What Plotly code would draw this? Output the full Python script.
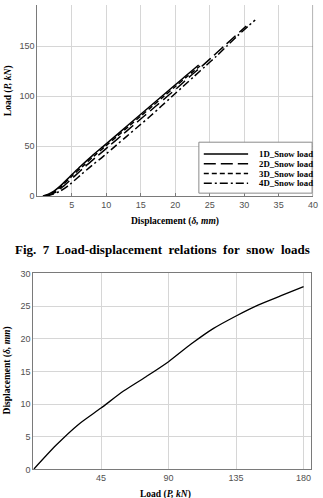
import plotly.graph_objects as go

# ---------------- data ----------------
# Top chart: displacement (mm) vs load (kN)
d1_disp = [0.8, 1.6, 2.4, 3.3, 4.8, 6.3, 7.9, 9.6, 11.3, 13.0, 14.7, 16.4, 18.1, 19.8, 21.5, 23.4]
d1_load = [0, 2, 5, 10, 20, 30, 40, 50, 60, 70, 80, 90, 100, 110, 120, 131]
d3_disp = [1.0, 1.8, 2.6, 3.5, 5.0, 6.6, 8.2, 9.9, 11.6, 13.3, 15.0, 16.7, 18.4, 20.1, 21.8, 23.6]
d3_load = [0, 2, 5, 10, 20, 30, 40, 50, 60, 70, 80, 90, 100, 110, 120, 130]
d2_disp = [1.1, 2.0, 2.9, 3.8, 5.4, 7.0, 8.7, 10.4, 12.1, 13.8, 15.5, 17.2, 18.9, 20.6, 22.2, 23.9, 25.5, 27.1, 28.7, 30.3]
d2_load = [0, 2, 5, 10, 20, 30, 40, 50, 60, 70, 80, 90, 100, 110, 120, 130, 140, 150, 160, 170]
d4_disp = [1.3, 2.3, 3.3, 4.4, 6.1, 7.8, 9.6, 11.3, 13.0, 14.7, 16.4, 18.0, 19.6, 21.2, 22.8, 24.4, 26.0, 27.5, 29.0, 30.6, 31.6]
d4_load = [0, 2, 5, 10, 20, 30, 40, 50, 60, 70, 80, 90, 100, 110, 120, 130, 140, 150, 160, 170, 176]

series_names = ["1D_Snow load", "2D_Snow load", "3D_Snow load", "4D_Snow load"]

top_xticks = [5, 10, 15, 20, 25, 30, 35, 40]
top_yticks = [0, 50, 100, 150]

# Bottom chart: load (kN) vs displacement (mm)
b_load = [0, 15, 30, 45, 60, 75, 90, 105, 120, 135, 150, 165, 180]
b_disp = [0, 3.7, 6.9, 9.4, 12.0, 14.2, 16.5, 19.2, 21.6, 23.5, 25.2, 26.6, 28.0]

bot_xticks = [45, 90, 135, 180]
bot_yticks = [0, 5, 10, 15, 20, 25, 30]

# ---------------- layout helpers ----------------
W, H = 323, 498
def px(x):
    return x / W
def py(y):
    return 1 - y / H

SERIF = "Liberation Serif"
SANS = "Liberation Sans"
GRID = "#d6d6d6"
AXIS = "#7a7a7a"
TICKFONT = dict(family=SANS, size=9, color="#505050")

dashes = ["solid", "12px,5px", "5px,3px", "8px,3px,2px,3px"]
top_data = [(d1_disp, d1_load), (d2_disp, d2_load), (d3_disp, d3_load), (d4_disp, d4_load)]

fig = go.Figure()
for (xs, ys), name, dash in zip(top_data, series_names, dashes):
    fig.add_trace(go.Scatter(x=xs, y=ys, mode="lines", name=name,
                             line=dict(color="black", width=1.5, dash=dash, shape="spline", smoothing=0.8),
                             xaxis="x", yaxis="y", showlegend=False))

fig.add_trace(go.Scatter(x=b_load, y=b_disp, mode="lines",
                         line=dict(color="black", width=1.3, shape="spline", smoothing=0.7),
                         xaxis="x2", yaxis="y2", showlegend=False))

shapes = []
# right spine of top chart
shapes.append(dict(type="line", xref="x", x0=40, x1=40, yref="paper",
                   y0=py(195), y1=1, line=dict(color=AXIS, width=1.2)))
# legend box
shapes.append(dict(type="rect", xref="paper", yref="paper",
                   x0=px(202), x1=px(317), y0=py(192), y1=py(140),
                   line=dict(color="#8a8a8a", width=1), fillcolor="white"))
annotations = []
rows = [152, 162, 172, 182]
for r, name, dash in zip(rows, series_names, dashes):
    shapes.append(dict(type="line", xref="paper", yref="paper",
                       x0=px(207), x1=px(252), y0=py(r), y1=py(r),
                       line=dict(color="black", width=1.5, dash=dash)))
    annotations.append(dict(text="<b>%s</b>" % name, xref="paper", yref="paper",
                            x=px(261), y=py(r), xanchor="left", yanchor="middle",
                            showarrow=False, font=dict(family=SERIF, size=8.8, color="black")))

# axis titles
annotations.append(dict(text="<b>Displacement (<i>δ, mm</i>)</b>", xref="paper", yref="paper",
                        x=px(178), y=py(221), xanchor="center", yanchor="middle", showarrow=False,
                        font=dict(family=SERIF, size=9.5, color="black")))
annotations.append(dict(text="<b>Load (<i>P, kN</i>)</b>", xref="paper", yref="paper",
                        x=px(8), y=py(87), xanchor="center", yanchor="middle", showarrow=False,
                        textangle=-90, font=dict(family=SERIF, size=9.5, color="black")))
annotations.append(dict(text="<b>Fig.\u00a0 7\u00a0 Load-displacement\u00a0 relations\u00a0 for\u00a0 snow\u00a0 loads</b>",
                        xref="paper", yref="paper",
                        x=px(165), y=py(249), xanchor="center", yanchor="middle", showarrow=False,
                        font=dict(family=SERIF, size=13, color="black")))
annotations.append(dict(text="<b>Displacement (<i>δ, mm</i>)</b>", xref="paper", yref="paper",
                        x=px(8), y=py(373), xanchor="center", yanchor="middle", showarrow=False,
                        textangle=-90, font=dict(family=SERIF, size=9.5, color="black")))
annotations.append(dict(text="<b>Load (<i>P, kN</i>)</b>", xref="paper", yref="paper",
                        x=px(168), y=py(500), xanchor="center", yanchor="middle", showarrow=False,
                        font=dict(family=SERIF, size=9.5, color="black")))

fig.update_layout(
    width=W, height=H, margin=dict(l=0, r=0, t=0, b=0),
    paper_bgcolor="white", plot_bgcolor="white",
    showlegend=False,
    xaxis=dict(domain=[px(38), px(318)], range=[0, 40], tickvals=top_xticks,
               anchor="y", showline=True, linecolor=AXIS, linewidth=1.2, mirror=False,
               showgrid=True, gridcolor=GRID, gridwidth=1, zeroline=False,
               ticks="inside", ticklen=3, tickcolor=AXIS, tickfont=TICKFONT,
               ticklabeloverflow="allow"),
    yaxis=dict(domain=[py(195), 1], range=[0, 191], tickvals=top_yticks,
               anchor="x", showline=True, linecolor=AXIS, linewidth=1.2, mirror=False,
               showgrid=True, gridcolor=GRID, gridwidth=1, zeroline=False,
               ticks="", tickfont=TICKFONT),
    xaxis2=dict(domain=[px(34), px(316)], range=[0, 185], tickvals=bot_xticks,
                anchor="y2", showline=True, linecolor=AXIS, linewidth=1.2, mirror=True,
                showgrid=True, gridcolor=GRID, gridwidth=1, zeroline=False,
                ticks="", tickfont=TICKFONT),
    yaxis2=dict(domain=[py(474), py(274)], range=[0, 30], tickvals=bot_yticks,
                anchor="x2", showline=True, linecolor=AXIS, linewidth=1.2, mirror=True,
                showgrid=True, gridcolor=GRID, gridwidth=1, zeroline=False,
                ticks="", tickfont=TICKFONT),
    shapes=shapes, annotations=annotations,
)

fig.write_html("out.html")
